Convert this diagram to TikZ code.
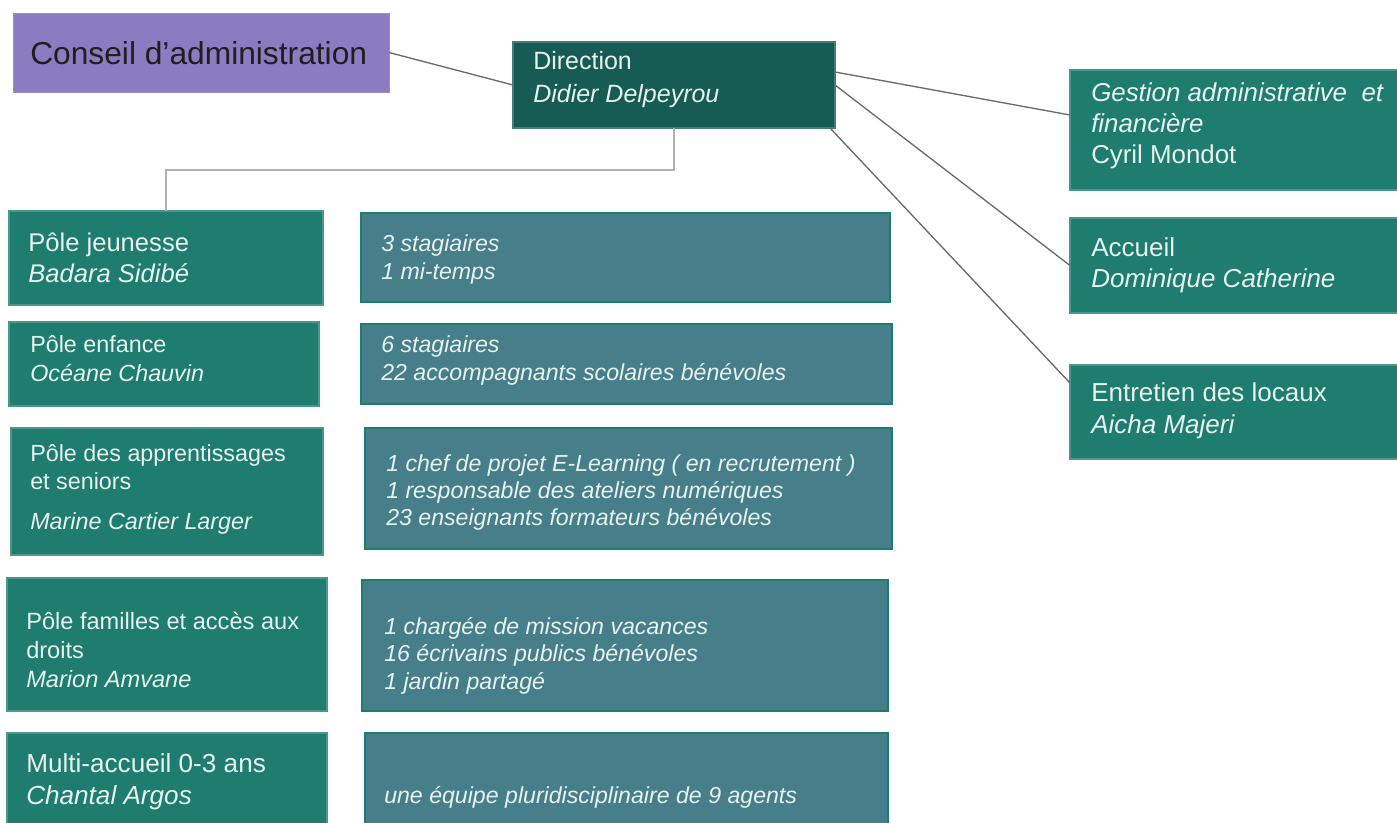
\documentclass[tikz,border=0pt]{standalone}
\usepackage{fontspec}
\setmainfont{Liberation Sans}
\usetikzlibrary{calc}
\definecolor{purp}{HTML}{8B7BC0}
\definecolor{dteal}{HTML}{165B54}
\definecolor{teal1}{HTML}{1E7D6E}
\definecolor{bluebox}{HTML}{467F8A}
\definecolor{txtl}{HTML}{E8F2EF}
\definecolor{lineg}{HTML}{6A6A6A}
\definecolor{linel}{HTML}{B0B0B0}
\newcommand{\setfs}[2]{\fontsize{#1}{#2}\selectfont}
\tikzset{
  box/.style={rectangle, anchor=north west, inner sep=0pt, outer sep=0pt},
  tealbox/.style={box, fill=teal1, draw=teal1!80!white, line width=0.8pt},
  bluebx/.style={box, fill=bluebox, draw=teal1, line width=1.2pt},
  txt/.style={anchor=west, align=left, inner sep=0pt, text=txtl},
  conn/.style={draw=lineg, line width=1pt},
}
\begin{document}
\begin{tikzpicture}[x=0.75pt, y=-0.75pt]
\useasboundingbox (0,0) rectangle (1397,823);
\clip (0,0) rectangle (1397,823);
% boxes
\node[box, fill=purp, draw=purp!85!white, line width=0.6pt, minimum width=376*0.75pt, minimum height=79*0.75pt] (cons) at (13,13) {};
\node[box, fill=dteal, draw=dteal!80!white, line width=0.8pt, minimum width=322*0.75pt, minimum height=86*0.75pt] (dir) at (513,42) {};
\node[tealbox, minimum width=340*0.75pt, minimum height=120*0.75pt] (gest) at (1070,70) {};
\node[tealbox, minimum width=340*0.75pt, minimum height=95*0.75pt] (acc) at (1070,218) {};
\node[tealbox, minimum width=340*0.75pt, minimum height=94*0.75pt] (ent) at (1070,365) {};
\node[tealbox, minimum width=314*0.75pt, minimum height=94*0.75pt] (jeun) at (9,211) {};
\node[tealbox, minimum width=310*0.75pt, minimum height=84*0.75pt] (enf) at (9,322) {};
\node[tealbox, minimum width=312*0.75pt, minimum height=127*0.75pt] (app) at (11,428) {};
\node[tealbox, minimum width=320*0.75pt, minimum height=133*0.75pt] (fam) at (7,578) {};
\node[tealbox, minimum width=320*0.75pt, minimum height=100*0.75pt] (multi) at (7,733) {};
\node[bluebx, minimum width=529*0.75pt, minimum height=89*0.75pt] (b1) at (361,213) {};
\node[bluebx, minimum width=531*0.75pt, minimum height=80*0.75pt] (b2) at (361,324) {};
\node[bluebx, minimum width=527*0.75pt, minimum height=121*0.75pt] (b3) at (365,428) {};
\node[bluebx, minimum width=526*0.75pt, minimum height=131*0.75pt] (b4) at (362,580) {};
\node[bluebx, minimum width=523*0.75pt, minimum height=100*0.75pt] (b5) at (365,733) {};
% texts
\node[txt, text=black!88, font=\setfs{23.8pt}{28pt}] (tcons) at (30,53) {Conseil d’administration};
\node[txt, font=\setfs{18.75pt}{24.75pt}] (tdir) at (533,80) {Direction\\\textit{Didier Delpeyrou}};
\node[txt, font=\setfs{19.4pt}{23.25pt}] (tgest) at (1091,126) {\textit{Gestion administrative\ \ et}\\\textit{financière}\\Cyril Mondot};
\node[txt, font=\setfs{19.5pt}{23.25pt}] (tacc) at (1091,265) {Accueil\\\textit{Dominique Catherine}};
\node[txt, font=\setfs{19.5pt}{23.75pt}] (tent) at (1091,410.5) {Entretien des locaux\\\textit{Aicha Majeri}};
\node[txt, font=\setfs{19.2pt}{23.25pt}] (tjeun) at (28,258) {Pôle jeunesse\\\textit{Badara Sidibé}};
\node[txt, font=\setfs{17.5pt}{21.75pt}] (tenf) at (30,359) {Pôle enfance\\\textit{Océane Chauvin}};
\node[txt, font=\setfs{17.5pt}{21pt}] (tapp) at (30,489) {Pôle des apprentissages\\et seniors\\[9pt]\textit{Marine Cartier Larger}};
\node[txt, font=\setfs{17.7pt}{21.75pt}] (tfam) at (26,650) {Pôle familles et accès aux\\droits\\\textit{Marion Amvane}};
\node[txt, font=\setfs{19.6pt}{24pt}] (tmulti) at (26,781.5) {Multi-accueil 0-3 ans\\\textit{Chantal Argos}};
\node[txt, font=\setfs{17.35pt}{21pt}\itshape] (tb1) at (381,260) {3 stagiaires\\1 mi-temps};
\node[txt, font=\setfs{17.35pt}{20.5pt}\itshape] (tb2) at (381,360.5) {6 stagiaires\\22 accompagnants scolaires bénévoles};
\node[txt, font=\setfs{17.35pt}{20.6pt}\itshape] (tb3) at (386,492.5) {1 chef de projet E-Learning ( en recrutement )\\1 responsable des ateliers numériques\\23 enseignants formateurs bénévoles};
\node[txt, font=\setfs{17.35pt}{20.6pt}\itshape] (tb4) at (384,655.5) {1 chargée de mission vacances\\16 écrivains publics bénévoles\\1 jardin partagé};
\node[txt, font=\setfs{17.35pt}{20.6pt}\itshape] (tb5) at (384,797.5) {une équipe pluridisciplinaire de 9 agents};
% connectors
\draw[conn] (cons.east) -- (dir.west);
\draw[conn] ($(dir.north east)+(0,30)$) -- ($(gest.north west)+(0,45)$);
\draw[conn] (dir.east) -- (acc.west);
\draw[conn] ($(dir.south east)+(-5,0)$) -- ($(ent.north west)+(0,18)$);
\draw[draw=linel, line width=1pt] (dir.south) -- ++(0,42) -| (jeun.north);
\end{tikzpicture}
\end{document}
